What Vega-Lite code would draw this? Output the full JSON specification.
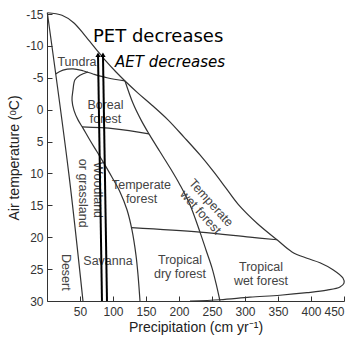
{
  "$schema": "https://vega.github.io/schema/vega-lite/v6.json",
  "width": 297,
  "height": 287,
  "autosize": {"type": "none"},
  "padding": {"left": 47, "top": 14, "right": 12, "bottom": 40},
  "background": "white",
  "config": {"view": {"stroke": null}, "font": "Liberation Sans"},
  "datasets": {
    "lines": [
      {"seg": "outer", "i": 0, "p": 0.5, "t": -15.2},
      {"seg": "outer", "i": 1, "p": 22.7, "t": -14.8},
      {"seg": "outer", "i": 2, "p": 40.9, "t": -13.6},
      {"seg": "outer", "i": 3, "p": 57.6, "t": -11.6},
      {"seg": "outer", "i": 4, "p": 74.2, "t": -9.5},
      {"seg": "outer", "i": 5, "p": 89.4, "t": -7.6},
      {"seg": "outer", "i": 6, "p": 104.6, "t": -5.9},
      {"seg": "outer", "i": 7, "p": 118.2, "t": -4.5},
      {"seg": "outer", "i": 8, "p": 137.9, "t": -2.6},
      {"seg": "outer", "i": 9, "p": 159.1, "t": -0.7},
      {"seg": "outer", "i": 10, "p": 183.3, "t": 1.6},
      {"seg": "outer", "i": 11, "p": 207.5, "t": 4.3},
      {"seg": "outer", "i": 12, "p": 231.8, "t": 7.1},
      {"seg": "outer", "i": 13, "p": 253.0, "t": 9.8},
      {"seg": "outer", "i": 14, "p": 271.2, "t": 12.3},
      {"seg": "outer", "i": 15, "p": 289.4, "t": 14.8},
      {"seg": "outer", "i": 16, "p": 318.2, "t": 17.8},
      {"seg": "outer", "i": 17, "p": 348.5, "t": 20.4},
      {"seg": "outer", "i": 18, "p": 371.2, "t": 22.3},
      {"seg": "outer", "i": 19, "p": 393.9, "t": 23.3},
      {"seg": "outer", "i": 20, "p": 413.6, "t": 24.0},
      {"seg": "outer", "i": 21, "p": 433.3, "t": 25.1},
      {"seg": "outer", "i": 22, "p": 448.4, "t": 26.4},
      {"seg": "outer", "i": 23, "p": 450, "t": 27.2},
      {"seg": "outer", "i": 24, "p": 443.9, "t": 27.8},
      {"seg": "outer", "i": 25, "p": 424.2, "t": 28.3},
      {"seg": "outer", "i": 26, "p": 393.9, "t": 28.7},
      {"seg": "outer", "i": 27, "p": 353, "t": 29.1},
      {"seg": "outer", "i": 28, "p": 307.5, "t": 29.4},
      {"seg": "outer", "i": 29, "p": 262, "t": 29.8},
      {"seg": "outer", "i": 30, "p": 216.6, "t": 30},
      {"seg": "desert", "i": 0, "p": 0.5, "t": -15.2},
      {"seg": "desert", "i": 1, "p": 33, "t": 10},
      {"seg": "desert", "i": 2, "p": 54.5, "t": 30},
      {"seg": "tundra", "i": 0, "p": 13, "t": -5.6},
      {"seg": "tundra", "i": 1, "p": 24.2, "t": -6.2},
      {"seg": "tundra", "i": 2, "p": 39.4, "t": -6.4},
      {"seg": "tundra", "i": 3, "p": 54.5, "t": -6.1},
      {"seg": "tundra", "i": 4, "p": 69.7, "t": -5.6},
      {"seg": "tundra", "i": 5, "p": 90.9, "t": -5.0},
      {"seg": "tundra", "i": 6, "p": 118.2, "t": -4.5},
      {"seg": "boreal", "i": 0, "p": 62.1, "t": -5.9},
      {"seg": "boreal", "i": 1, "p": 50.0, "t": -5.4},
      {"seg": "boreal", "i": 2, "p": 42.4, "t": -4.7},
      {"seg": "boreal", "i": 3, "p": 39.4, "t": -3.1},
      {"seg": "boreal", "i": 4, "p": 37.9, "t": -1.5},
      {"seg": "boreal", "i": 5, "p": 40.9, "t": 0.1},
      {"seg": "boreal", "i": 6, "p": 47.0, "t": 1.6},
      {"seg": "boreal", "i": 7, "p": 54.5, "t": 2.9},
      {"seg": "boreal", "i": 8, "p": 65.1, "t": 4.8},
      {"seg": "boreal", "i": 9, "p": 75.8, "t": 6.6},
      {"seg": "boreal", "i": 10, "p": 87.9, "t": 8.7},
      {"seg": "boreal", "i": 11, "p": 98.5, "t": 10.6},
      {"seg": "boreal", "i": 12, "p": 110.6, "t": 12.9},
      {"seg": "boreal", "i": 13, "p": 121.2, "t": 15.7},
      {"seg": "boreal", "i": 14, "p": 128.8, "t": 18.9},
      {"seg": "boreal", "i": 15, "p": 134.8, "t": 22.8},
      {"seg": "boreal", "i": 16, "p": 137.9, "t": 25.9},
      {"seg": "boreal", "i": 17, "p": 140.9, "t": 30},
      {"seg": "h5", "i": 0, "p": 53, "t": 2.7},
      {"seg": "h5", "i": 1, "p": 103, "t": 3.0},
      {"seg": "h5", "i": 2, "p": 154.5, "t": 3.8},
      {"seg": "inner", "i": 0, "p": 118.2, "t": -4.5},
      {"seg": "inner", "i": 1, "p": 130.3, "t": -1.0},
      {"seg": "inner", "i": 2, "p": 142.4, "t": 1.6},
      {"seg": "inner", "i": 3, "p": 154.5, "t": 3.8},
      {"seg": "inner", "i": 4, "p": 171.2, "t": 6.6},
      {"seg": "inner", "i": 5, "p": 186.3, "t": 9.1},
      {"seg": "inner", "i": 6, "p": 201.5, "t": 11.8},
      {"seg": "inner", "i": 7, "p": 216.6, "t": 14.9},
      {"seg": "inner", "i": 8, "p": 231.8, "t": 19.2},
      {"seg": "inner", "i": 9, "p": 240.9, "t": 22.0},
      {"seg": "inner", "i": 10, "p": 250.0, "t": 24.8},
      {"seg": "inner", "i": 11, "p": 256.0, "t": 27.2},
      {"seg": "inner", "i": 12, "p": 262.1, "t": 30},
      {"seg": "h20", "i": 0, "p": 128, "t": 18.5},
      {"seg": "h20", "i": 1, "p": 231.8, "t": 19.2},
      {"seg": "h20", "i": 2, "p": 307.5, "t": 20.0},
      {"seg": "h20", "i": 3, "p": 348.5, "t": 20.4}
    ],
    "labels": [
      {"label": "Tundra", "p": 45.4, "t": -7.5, "a": 0},
      {"label": "Boreal\nforest", "p": 88.6, "t": -0.8, "a": 0},
      {"label": "Temperate\nforest", "p": 143.2, "t": 11.8, "a": 0},
      {"label": "or grassland", "p": 54.5, "t": 13.1, "a": 90},
      {"label": "Woodland", "p": 77.3, "t": 12.6, "a": 90},
      {"label": "Desert", "p": 28.8, "t": 25.5, "a": 90},
      {"label": "Savanna", "p": 92.4, "t": 23.7, "a": 0},
      {"label": "Tropical\ndry forest", "p": 201.5, "t": 23.6, "a": 0},
      {"label": "Tropical\nwet forest", "p": 324.2, "t": 24.7, "a": 0},
      {"label": "Temperate\nwet forest", "p": 248.5, "t": 14.6, "a": 48}
    ],
    "arrows": [
      {"p": 77.3, "t": -8.6, "p2": 83.3, "t2": 30},
      {"p": 84.8, "t": -8.6, "p2": 90.9, "t2": 30}
    ],
    "pet": [{"label": "PET decreases", "p": 69.7, "t": -10.6}],
    "aet": [{"label": "AET decreases", "p": 103, "t": -6.7}]
  },
  "encoding": {
    "x": {
      "field": "p", "type": "quantitative",
      "scale": {"domain": [0, 450], "nice": false, "zero": false},
      "axis": {
        "title": "Precipitation (cm yr⁻¹)",
        "values": [50, 100, 150, 200, 250, 300, 350, 400, 450],
        "grid": false,
        "domainColor": "#333333",
        "tickColor": "#333333",
        "tickSize": -5,
        "labelPadding": 10,
        "labelFontSize": 12,
        "labelColor": "#333333",
        "titleFontSize": 14,
        "titleFontWeight": "normal",
        "titleColor": "#222222",
        "titlePadding": 3
      }
    },
    "y": {
      "field": "t", "type": "quantitative",
      "scale": {"domain": [-15, 30], "nice": false, "zero": false, "reverse": true},
      "axis": {
        "title": "Air temperature (ᵒC)",
        "values": [-15, -10, -5, 0, 5, 10, 15, 20, 25, 30],
        "labelExpr": "'' + datum.value",
        "grid": false,
        "domainColor": "#333333",
        "tickColor": "#333333",
        "tickSize": -5,
        "labelPadding": 9,
        "labelFontSize": 12,
        "labelColor": "#333333",
        "titleFontSize": 14,
        "titleFontWeight": "normal",
        "titleColor": "#222222",
        "titlePadding": 4
      }
    }
  },
  "layer": [
    {
      "data": {"name": "lines"},
      "mark": {"type": "line", "color": "#333333", "strokeWidth": 1.2, "interpolate": "catmull-rom"},
      "encoding": {
        "detail": {"field": "seg"},
        "order": {"field": "i"}
      }
    },
    {
      "data": {"name": "labels"},
      "mark": {"type": "text", "font": "Liberation Sans", "fontSize": 12.5, "color": "#444444", "align": "center", "baseline": "middle", "lineBreak": "\n", "lineHeight": 14},
      "encoding": {
        "text": {"field": "label"},
        "angle": {"field": "a", "type": "quantitative", "scale": null}
      }
    },
    {
      "data": {"name": "arrows"},
      "mark": {"type": "rule", "color": "black", "strokeWidth": 2},
      "encoding": {
        "x2": {"field": "p2"},
        "y2": {"field": "t2"}
      }
    },
    {
      "data": {"name": "arrows"},
      "mark": {"type": "point", "shape": "triangle-up", "filled": true, "color": "black", "size": 28, "opacity": 1},
      "encoding": {}
    },
    {
      "data": {"name": "pet"},
      "mark": {"type": "text", "font": "DejaVu Sans", "fontSize": 18, "color": "black", "align": "left", "baseline": "alphabetic"},
      "encoding": {
        "text": {"field": "label"}
      }
    },
    {
      "data": {"name": "aet"},
      "mark": {"type": "text", "font": "DejaVu Sans", "fontSize": 15, "fontStyle": "italic", "color": "black", "align": "left", "baseline": "alphabetic"},
      "encoding": {
        "text": {"field": "label"}
      }
    }
  ]
}
